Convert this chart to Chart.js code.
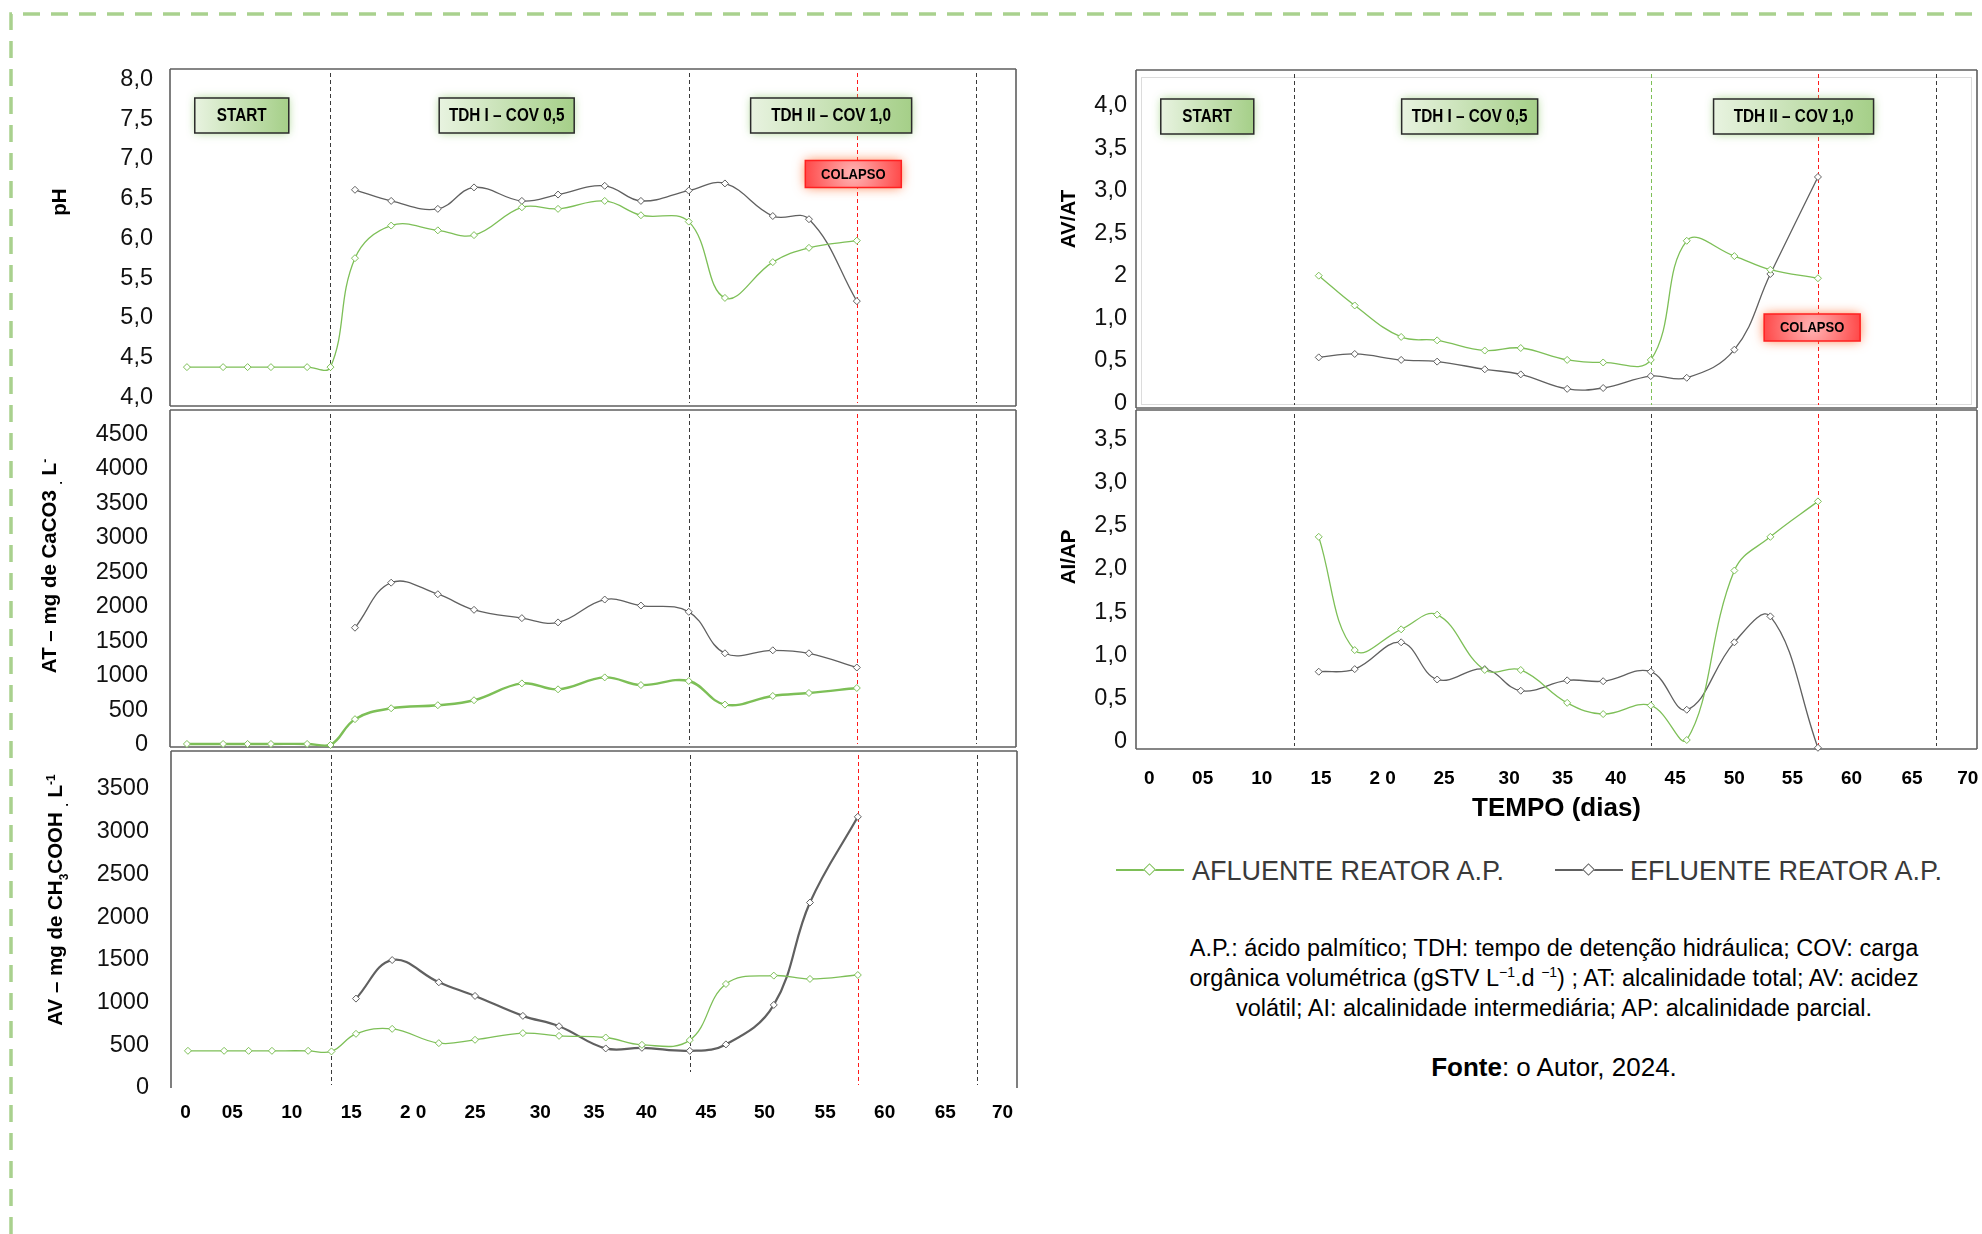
<!DOCTYPE html>
<html lang="pt">
<head>
<meta charset="utf-8">
<title>pH, AT, AV, AV/AT e AI/AP - reator A.P.</title>
<script src="https://cdn.jsdelivr.net/npm/chart.js@4.4.1/dist/chart.umd.min.js"></script>
<style>
  html, body { margin: 0; padding: 0; background: #fff; }
  body { width: 1982px; height: 1234px; position: relative; overflow: hidden; font-family: "Liberation Sans", Arial, sans-serif; }
  canvas { position: absolute; }
  #frame { position: absolute; left: 0; top: 0; }
  .ytitle { position: absolute; font-weight: bold; font-size: 20.5px; color: #000; white-space: nowrap;
            transform: translate(-50%, -50%) rotate(-90deg); }
  .ytitle sub, .ytitle sup { font-size: 12px; }
  .sw { position: absolute; width: 68px; height: 2px; }
  .sw i { position: absolute; left: 29px; top: -4px; width: 7px; height: 7px; background: #fff; border: 1px solid; transform: rotate(45deg); }
  .lt { position: absolute; font-size: 27px; color: #3a3a3a; line-height: 1; transform: translateY(-50%); white-space: nowrap; }
  #nota { position: absolute; left: 1104px; width: 900px; top: 933px; text-align: center; font-size: 23.5px; line-height: 30px; color: #000; }
  #nota sup { font-size: 14px; line-height: 0; }
  #fonte { position: absolute; left: 1104px; width: 900px; top: 1052px; text-align: center; font-size: 26px; color: #000; }
</style>
</head>
<body>
<svg id="frame" width="1982" height="1234">
  <path d="M11 1234 V14 H1982" fill="none" stroke="#a9d18e" stroke-width="3.5" stroke-dasharray="17 11"/>
</svg>

<canvas id="cPH" width="1022" height="347" style="left:0px; top:64px"></canvas>
<canvas id="cAT" width="1022" height="347" style="left:0px; top:405px"></canvas>
<canvas id="cAV" width="1023" height="382" style="left:0px; top:746px"></canvas>
<canvas id="cAVAT" width="916" height="348" style="left:1066px; top:65px"></canvas>
<canvas id="cAIAP" width="916" height="424" style="left:1066px; top:405px"></canvas>

<div class="ytitle" style="left:59px; top:202px">pH</div>
<div class="ytitle" style="left:51px; top:566px">AT – mg de CaCO3 <sub>.</sub> L<sup>-</sup></div>
<div class="ytitle" style="left:57px; top:900px">AV – mg de CH<sub>3</sub>COOH <sub>.</sub> L<sup>-1</sup></div>
<div class="ytitle" style="left:1068px; top:219px">AV/AT</div>
<div class="ytitle" style="left:1068px; top:557px">AI/AP</div>

<div class="sw" id="sw0" style="left:1116px; top:869px"><i></i></div>
<div class="lt" id="lt0" style="left:1192px; top:871px"></div>
<div class="sw" id="sw1" style="left:1555px; top:869px"><i></i></div>
<div class="lt" id="lt1" style="left:1630px; top:871px"></div>

<div id="nota">A.P.: ácido palmítico; TDH: tempo de detenção hidráulica; COV: carga<br>orgânica volumétrica (gSTV L<sup>−1</sup>.d <sup>−1</sup>) ; AT: alcalinidade total; AV: acidez<br>volátil; AI: alcalinidade intermediária; AP: alcalinidade parcial.</div>
<div id="fonte"><b>Fonte</b>: o Autor, 2024.</div>

<script>
// dias de coleta (eixo TEMPO)
const days = [0.2, 3.3, 5.4, 7.4, 10.5, 12.5, 14.6, 17.7, 21.7, 24.8, 28.9, 32.0, 36.0, 39.1, 43.2, 46.3, 50.4, 53.5, 57.6];
const daysR = days.slice(6);
const tickDaysLeft = [0, 4.0, 9.1, 14.2, 19.5, 24.8, 30.4, 35.0, 39.5, 44.6, 49.6, 54.8, 59.9, 65.1, 70.0];
const tickDaysRight = [0, 4.6, 9.7, 14.8, 20.1, 25.4, 31.0, 35.6, 40.2, 45.3, 50.4, 55.4, 60.5, 65.7, 70.5];
const tickDayLabels = ['0', '05', '10', '15', '2 0', '25', '30', '35', '40', '45', '50', '55', '60', '65', '70'];
const phaseDays = [12.5, 43.2, 57.6, 67.8];
const phaseNames = ['START', 'TDH I – COV 0,5', 'TDH II – COV 1,0'];
const seriesNames = ['AFLUENTE REATOR A.P.', 'EFLUENTE REATOR A.P.'];

// pH
const phAfl = [4.38, 4.38, 4.38, 4.38, 4.38, 4.38, 5.75, 6.16, 6.10, 6.04, 6.39, 6.37, 6.47, 6.29, 6.21, 5.25, 5.70, 5.88, 5.97];
const phEfl = [null, null, null, null, null, null, 6.61, 6.47, 6.37, 6.64, 6.47, 6.55, 6.66, 6.47, 6.60, 6.69, 6.28, 6.24, 5.21];
const phTicks = [4, 4.5, 5, 5.5, 6, 6.5, 7, 7.5, 8];
const phTickLabels = ['4,0', '4,5', '5,0', '5,5', '6,0', '6,5', '7,0', '7,5', '8,0'];

// AT - mg CaCO3/L
const atAfl = [15, 15, 15, 15, 15, 0, 374, 532, 576, 648, 892, 806, 979, 868, 926, 585, 710, 753, 825];
const atEfl = [null, null, null, null, null, null, 1698, 2350, 2183, 1957, 1837, 1775, 2106, 2019, 1928, 1328, 1371, 1328, 1122];
const atTicks = [0, 500, 1000, 1500, 2000, 2500, 3000, 3500, 4000, 4500];

// AV - mg CH3COOH/L
const avAfl = [435, 435, 435, 435, 435, 428, 634, 692, 525, 564, 642, 610, 591, 505, 560, 1217, 1315, 1276, 1322];
const avEfl = [null, null, null, null, null, null, 1046, 1497, 1237, 1077, 844, 723, 463, 470, 435, 510, 972, 2170, 3173];
const avTicks = [0, 500, 1000, 1500, 2000, 2500, 3000, 3500];

// AV/AT (rotulos do eixo como na figura original)
const avatAfl = [1.50, 1.15, 0.78, 0.74, 0.62, 0.65, 0.51, 0.48, 0.51, 1.91, 1.73, 1.57, 1.47];
const avatEfl = [0.54, 0.58, 0.51, 0.49, 0.40, 0.34, 0.17, 0.18, 0.32, 0.30, 0.63, 1.52, 2.66];
const avatTicks = [0, 0.5, 1, 1.5, 2, 2.5, 3, 3.5];
const avatTickLabels = ['0', '0,5', '1,0', '2', '2,5', '3,0', '3,5', '4,0'];

// AI/AP
const aiapAfl = [2.37, 1.06, 1.30, 1.47, 0.83, 0.83, 0.45, 0.32, 0.42, 0.02, 1.98, 2.37, 2.78];
const aiapEfl = [0.81, 0.84, 1.15, 0.72, 0.84, 0.59, 0.71, 0.70, 0.81, 0.37, 1.15, 1.45, -0.07];
const aiapTicks = [0, 0.5, 1, 1.5, 2, 2.5, 3, 3.5];
const aiapTickLabels = ['0', '0,5', '1,0', '1,5', '2,0', '2,5', '3,0', '3,5'];

const GREEN = '#7dbf57';
const GRAY = '#606060';
const BLACKDASH = '#3a3a3a';
const RED = '#ff1a1a';
const FONT = '"Liberation Sans", Arial, sans-serif';

function pts(xs, ys) {
  return xs.map((x, i) => ({x: x, y: ys[i]}));
}

function drawLabelBox(ctx, cx, cy, w, h, text, kind) {
  const x = cx - w / 2, y = cy - h / 2;
  ctx.save();
  let fill;
  if (kind === 'red') {
    fill = ctx.createRadialGradient(cx, cy, 2, cx, cy, w / 2);
    fill.addColorStop(0, '#ffb0b0');
    fill.addColorStop(1, '#ff4a4a');
    ctx.shadowColor = 'rgba(255,110,50,0.85)';
    ctx.shadowBlur = 12;
  } else {
    fill = ctx.createLinearGradient(x, 0, x + w, 0);
    fill.addColorStop(0, '#e8f3e0');
    fill.addColorStop(1, '#a5cf88');
    ctx.shadowColor = 'rgba(160,210,130,0.9)';
    ctx.shadowBlur = 9;
  }
  ctx.fillStyle = fill;
  ctx.beginPath();
  ctx.rect(x, y, w, h);
  ctx.fill();
  ctx.shadowBlur = 0;
  ctx.shadowColor = 'transparent';
  ctx.lineWidth = 1.5;
  ctx.strokeStyle = kind === 'red' ? '#ff2020' : '#2b2b2b';
  ctx.stroke();
  ctx.fillStyle = '#000';
  ctx.textAlign = 'center';
  ctx.textBaseline = 'middle';
  ctx.translate(cx, cy + 1);
  if (kind === 'red') {
    ctx.font = 'bold 14px ' + FONT;
    ctx.scale(0.93, 1);
  } else {
    ctx.font = 'bold 18px ' + FONT;
    ctx.scale(0.85, 1);
  }
  ctx.fillText(text, 0, 0);
  ctx.restore();
}

// linhas de fase, moldura e rotulos
const decor = {
  id: 'decor',
  beforeDatasetsDraw(chart, args, o) {
    const {ctx, chartArea: a, scales: {x}} = chart;
    ctx.save();
    if (o.inner) {
      ctx.strokeStyle = '#dcdcdc';
      ctx.lineWidth = 1;
      ctx.strokeRect(a.left + 5.5, a.top + 7.5, a.width - 11, a.height - 11);
    }
    ctx.lineWidth = 1;
    ctx.setLineDash([4, 3]);
    phaseDays.forEach((d, i) => {
      const px = Math.round(x.getPixelForValue(d)) + 0.5;
      ctx.strokeStyle = o.lineColors[i];
      ctx.beginPath();
      ctx.moveTo(px, a.top + 4);
      ctx.lineTo(px, a.bottom - (o.lineBottom ? o.lineBottom[i] : 3));
      ctx.stroke();
    });
    ctx.setLineDash([]);
    ctx.strokeStyle = '#5f5f5f';
    ctx.lineWidth = 1.6;
    ctx.beginPath();
    const s = o.sides;
    if (s.includes('t')) { ctx.moveTo(a.left, a.top); ctx.lineTo(a.right, a.top); }
    if (s.includes('r')) { ctx.moveTo(a.right, a.top); ctx.lineTo(a.right, a.bottom); }
    if (s.includes('b')) { ctx.moveTo(a.left, a.bottom); ctx.lineTo(a.right, a.bottom); }
    if (s.includes('l')) { ctx.moveTo(a.left, a.top); ctx.lineTo(a.left, a.bottom); }
    ctx.stroke();
    ctx.restore();
  },
  afterDatasetsDraw(chart, args, o) {
    const {ctx, chartArea: a, scales: {x, y}} = chart;
    if (o.phases) {
      phaseNames.forEach((n, i) => {
        drawLabelBox(ctx, x.getPixelForValue(o.phases.at[i]), a.top + 46.5, o.phases.w[i], 35, n, 'green');
      });
    }
    if (o.colapso) {
      drawLabelBox(ctx, x.getPixelForValue(o.colapso.x), y.getPixelForValue(o.colapso.y), 96, 27, 'COLAPSO', 'red');
    }
  }
};

function lineSet(label, data, color, width) {
  return {
    label: label,
    data: data,
    borderColor: color,
    borderWidth: width,
    tension: 0.4,
    pointStyle: 'rectRot',
    pointRadius: 3.5,
    pointBorderWidth: 1,
    pointBorderColor: color,
    pointBackgroundColor: '#ffffff',
    clip: false,
    spanGaps: false
  };
}

function makeChart(id, c) {
  return new Chart(document.getElementById(id), {
    type: 'line',
    data: {
      datasets: [
        lineSet(seriesNames[0], c.afl, GREEN, c.wG || 1.3),
        lineSet(seriesNames[1], c.efl, GRAY, c.wE || 1.3)
      ]
    },
    options: {
      responsive: false,
      animation: false,
      events: [],
      layout: { padding: c.pad },
      plugins: {
        legend: { display: false },
        tooltip: { enabled: false },
        decor: c.decor
      },
      scales: {
        x: {
          type: 'linear',
          min: c.xMin,
          max: c.xMax,
          display: !!c.xh,
          grid: { display: false, drawTicks: false },
          border: { display: false },
          afterBuildTicks: ax => { ax.ticks = c.xTicks.map(v => ({value: v})); },
          afterFit: ax => { ax.height = c.xh || 0; ax.paddingLeft = 0; ax.paddingRight = 0; },
          ticks: {
            autoSkip: false,
            maxRotation: 0,
            padding: c.xPad || 12,
            color: '#000',
            font: { family: FONT, size: c.xFont || 19, weight: 'bold' },
            callback: (v, i) => tickDayLabels[i]
          },
          title: c.xTitle ? {
            display: true,
            text: c.xTitle,
            color: '#000',
            font: { family: FONT, size: 26, weight: 'bold' },
            padding: { top: 0, bottom: c.xTitlePad }
          } : { display: false }
        },
        y: {
          type: 'linear',
          min: c.yMin,
          max: c.yMax,
          grid: { display: false, drawTicks: false },
          border: { display: false },
          afterBuildTicks: ax => { ax.ticks = c.yTicks.map(v => ({value: v})); },
          afterFit: ax => { ax.width = c.yw; ax.paddingTop = 0; ax.paddingBottom = 0; },
          ticks: {
            padding: c.yPad,
            color: '#111',
            font: { family: FONT, size: 23.5 },
            callback: (v, i) => c.yLabels[i]
          }
        }
      }
    },
    plugins: [decor]
  });
}

const leftLines = [BLACKDASH, BLACKDASH, RED, BLACKDASH];
const leftPhases = { at: [4.9, 27.6, 55.4], w: [94, 135, 161] };
const rightPhases = { at: [5.0, 27.6, 55.5], w: [93, 136, 160] };

makeChart('cPH', {
  afl: pts(days, phAfl), efl: pts(days, phEfl),
  pad: { top: 4, right: 6, bottom: 4, left: 0 },
  xMin: -1.25, xMax: 71.24, xTicks: tickDaysLeft, yMin: 3.891, yMax: 8.129,
  yTicks: phTicks, yLabels: phTickLabels, yw: 170, yPad: 17,
  decor: { sides: 'tlrb', lineColors: leftLines, phases: leftPhases, colapso: { x: 57.3, y: 6.81 } }
});

makeChart('cAT', {
  afl: pts(days, atAfl), efl: pts(days, atEfl), wG: 2.4,
  pad: { top: 4, right: 6, bottom: 4, left: 0 },
  xMin: -1.25, xMax: 71.24, xTicks: tickDaysLeft, yMin: -29, yMax: 4850,
  yTicks: atTicks, yLabels: atTicks.map(String), yw: 170, yPad: 22,
  decor: { sides: 'tlrb', lineColors: leftLines }
});

makeChart('cAV', {
  afl: pts(days, avAfl), efl: pts(days, avEfl), wE: 2.2,
  pad: { top: 4, right: 6, bottom: 0, left: 0 },
  xMin: -1.25, xMax: 71.24, xTicks: tickDaysLeft, yMin: 0, yMax: 3943,
  yTicks: avTicks, yLabels: avTicks.map(String), yw: 171, yPad: 22,
  xh: 40, xPad: 13, xFont: 19,
  decor: { sides: 'tlr', lineColors: leftLines, lineBottom: [3, 16, 3, 3] }
});

makeChart('cAVAT', {
  afl: pts(daysR, avatAfl), efl: pts(daysR, avatEfl),
  pad: { top: 4, right: 2, bottom: 4, left: 0 },
  xMin: -1.14, xMax: 71.3, xTicks: tickDaysRight, yMin: -0.055, yMax: 3.917,
  yTicks: avatTicks, yLabels: avatTickLabels, yw: 70, yPad: 9,
  decor: { sides: 'tlrb', inner: true, lineColors: [BLACKDASH, GREEN, RED, BLACKDASH], phases: rightPhases, colapso: { x: 57.1, y: 0.89 } }
});

makeChart('cAIAP', {
  afl: pts(daysR, aiapAfl), efl: pts(daysR, aiapEfl),
  pad: { top: 4, right: 2, bottom: 0, left: 0 },
  xMin: -1.14, xMax: 71.3, xTicks: tickDaysRight, yMin: -0.084, yMax: 3.837,
  yTicks: aiapTicks, yLabels: aiapTickLabels, yw: 70, yPad: 9,
  xh: 80, xPad: 18, xFont: 19, xTitle: 'TEMPO (dias)', xTitlePad: 5,
  decor: { sides: 'tlrb', lineColors: leftLines }
});

// legenda
[GREEN, GRAY].forEach((col, i) => {
  const sw = document.getElementById('sw' + i);
  sw.style.background = col;
  sw.firstChild.style.borderColor = col;
  document.getElementById('lt' + i).textContent = seriesNames[i];
});
</script>
</body>
</html>
